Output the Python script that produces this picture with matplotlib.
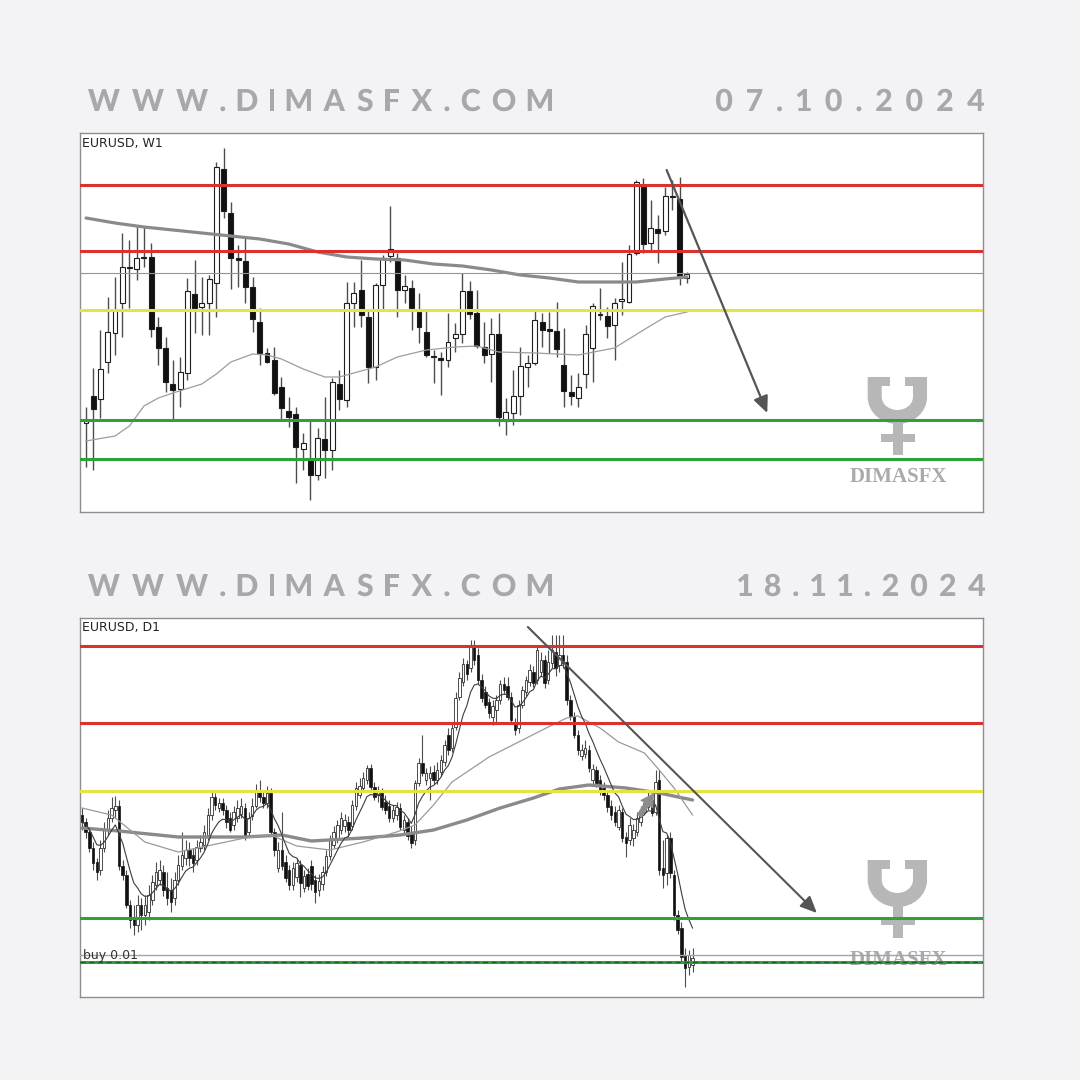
import numpy as np
import pandas as pd
import matplotlib
matplotlib.use("Agg")
import matplotlib.pyplot as plt
from matplotlib.patches import PathPatch, Rectangle
from matplotlib.path import Path
from matplotlib.textpath import TextPath
from matplotlib.font_manager import FontProperties
from matplotlib.transforms import Affine2D

# ---------------------------------------------------------------- weekly EURUSD
w_open = [1.0654, 1.0708, 1.0702, 1.0776, 1.0834, 1.0894, 1.0964, 1.0962, 1.0984, 1.0986,
          1.0846, 1.0804, 1.0732, 1.0722, 1.0754, 1.0912, 1.0886, 1.0894, 1.0934, 1.1162,
          1.1074, 1.0984, 1.0978, 1.0926, 1.0856, 1.0794, 1.0780, 1.0726, 1.0678, 1.0672,
          1.0602, 1.0584, 1.0550, 1.0622, 1.0600, 1.0732, 1.0700, 1.0894, 1.0920, 1.0866,
          1.0766, 1.0930, 1.0988, 1.0984, 1.0920, 1.0924, 1.0876, 1.0836, 1.0788, 1.0784,
          1.0780, 1.0824, 1.0832, 1.0918, 1.0874, 1.0806, 1.0792, 1.0832, 1.0658, 1.0674,
          1.0708, 1.0766, 1.0774, 1.0856, 1.0842, 1.0838, 1.0770, 1.0716, 1.0704, 1.0752,
          1.0804, 1.0872, 1.0868, 1.0850, 1.0898, 1.0896, 1.0994, 1.1126, 1.1014, 1.1042,
          1.1038, 1.1108, 1.1102, 1.0944]
w_high = [1.0686, 1.0764, 1.0840, 1.0906, 1.0946, 1.1034, 1.1020, 1.1050, 1.1046, 1.1014,
          1.0866, 1.0826, 1.0780, 1.0786, 1.0944, 1.0980, 1.0946, 1.0950, 1.1176, 1.1204,
          1.1096, 1.1010, 1.1026, 1.0946, 1.0884, 1.0804, 1.0806, 1.0746, 1.0706, 1.0686,
          1.0634, 1.0660, 1.0644, 1.0706, 1.0744, 1.0760, 1.0936, 1.0936, 1.0980, 1.0880,
          1.0934, 1.0990, 1.1088, 1.0994, 1.0950, 1.0940, 1.0914, 1.0880, 1.0800, 1.0796,
          1.0874, 1.0854, 1.0954, 1.0938, 1.0920, 1.0856, 1.0864, 1.0874, 1.0704, 1.0760,
          1.0806, 1.0790, 1.0880, 1.0874, 1.0876, 1.0896, 1.0844, 1.0750, 1.0754, 1.0850,
          1.0894, 1.0924, 1.0886, 1.0904, 1.0976, 1.1010, 1.1140, 1.1144, 1.1100, 1.1070,
          1.1126, 1.1140, 1.1146, 1.0956]
w_low = [1.0566, 1.0560, 1.0664, 1.0754, 1.0790, 1.0826, 1.0884, 1.0940, 1.0966, 1.0826,
         1.0770, 1.0716, 1.0660, 1.0686, 1.0740, 1.0834, 1.0830, 1.0830, 1.0866, 1.1064,
         1.0922, 1.0926, 1.0894, 1.0836, 1.0770, 1.0774, 1.0710, 1.0660, 1.0646, 1.0534,
         1.0560, 1.0500, 1.0540, 1.0544, 1.0560, 1.0680, 1.0686, 1.0846, 1.0846, 1.0734,
         1.0740, 1.0880, 1.0976, 1.0866, 1.0894, 1.0840, 1.0814, 1.0786, 1.0734, 1.0710,
         1.0766, 1.0796, 1.0814, 1.0862, 1.0804, 1.0774, 1.0736, 1.0648, 1.0630, 1.0650,
         1.0670, 1.0726, 1.0770, 1.0806, 1.0794, 1.0786, 1.0686, 1.0690, 1.0686, 1.0724,
         1.0736, 1.0860, 1.0824, 1.0780, 1.0870, 1.0894, 1.0990, 1.0994, 1.0996, 1.0974,
         1.1030, 1.1080, 1.0930, 1.0934]
w_close = [1.0660, 1.0682, 1.0762, 1.0836, 1.0880, 1.0966, 1.0966, 1.0984, 1.0986, 1.0842,
           1.0804, 1.0736, 1.0720, 1.0756, 1.0918, 1.0884, 1.0894, 1.0942, 1.1166, 1.1078,
           1.0984, 1.0980, 1.0926, 1.0862, 1.0794, 1.0776, 1.0714, 1.0684, 1.0666, 1.0606,
           1.0614, 1.0550, 1.0624, 1.0600, 1.0736, 1.0702, 1.0894, 1.0914, 1.0870, 1.0766,
           1.0930, 1.0984, 1.1002, 1.0920, 1.0928, 1.0884, 1.0846, 1.0790, 1.0786, 1.0780,
           1.0816, 1.0832, 1.0918, 1.0872, 1.0808, 1.0790, 1.0832, 1.0666, 1.0676, 1.0708,
           1.0768, 1.0774, 1.0860, 1.0840, 1.0838, 1.0802, 1.0718, 1.0708, 1.0726, 1.0832,
           1.0888, 1.0870, 1.0848, 1.0894, 1.0902, 1.0992, 1.1136, 1.1012, 1.1044, 1.1034,
           1.1108, 1.1106, 1.0948, 1.0952]

# moving averages on the weekly chart (bar index, value)
w_ma_slow_idx = [0, 4, 8, 12, 16, 20, 24, 28, 32, 36, 40, 44, 48, 52, 56, 60, 64, 68, 72, 76, 80, 83]
w_ma_slow = [1.1064, 1.1054, 1.1046, 1.1040, 1.1034, 1.1028, 1.1022, 1.1012, 1.0996, 1.0986, 1.0982,
             1.0980, 1.0972, 1.0968, 1.0960, 1.0950, 1.0944, 1.0936, 1.0936, 1.0936, 1.0942, 1.0946]
w_ma_mid_idx = [0, 4, 6, 8, 10, 12, 16, 18, 20, 23, 25, 27, 30, 33, 35, 38, 40, 43, 47, 51, 54, 57,
                62, 68, 73, 77, 80, 83]
w_ma_mid = [1.0618, 1.0628, 1.0648, 1.0688, 1.0704, 1.0714, 1.0732, 1.0752, 1.0776, 1.0792, 1.0790,
            1.0782, 1.0762, 1.0746, 1.0746, 1.0758, 1.0766, 1.0786, 1.0800, 1.0806, 1.0808, 1.0796,
            1.0794, 1.0790, 1.0804, 1.0840, 1.0866, 1.0876]

w_red_levels = [1.1130, 1.0998]
w_yellow_level = 1.0880
w_green_levels = [1.0660, 1.0582]
w_last_price = 1.0954
w_arrow_from = (80.2, 1.1160)
w_arrow_to = (94.1, 1.0674)

# ---------------------------------------------------------------- daily EURUSD
d_open = [1.0870, 1.0856, 1.0836, 1.0804, 1.0776, 1.0760, 1.0804, 1.0840, 1.0864, 1.0880,
          1.0888, 1.0768, 1.0750, 1.0690, 1.0664, 1.0650, 1.0690, 1.0670, 1.0676, 1.0700,
          1.0730, 1.0740, 1.0756, 1.0724, 1.0720, 1.0704, 1.0740, 1.0768, 1.0784, 1.0800,
          1.0790, 1.0780, 1.0804, 1.0810, 1.0830, 1.0870, 1.0906, 1.0884, 1.0894, 1.0880,
          1.0864, 1.0850, 1.0864, 1.0872, 1.0884, 1.0836, 1.0868, 1.0888, 1.0920, 1.0906,
          1.0894, 1.0914, 1.0836, 1.0764, 1.0800, 1.0776, 1.0760, 1.0730, 1.0746, 1.0770,
          1.0724, 1.0752, 1.0768, 1.0740, 1.0720, 1.0732, 1.0756, 1.0788, 1.0810, 1.0820,
          1.0840, 1.0848, 1.0856, 1.0848, 1.0888, 1.0910, 1.0924, 1.0940, 1.0964, 1.0926,
          1.0910, 1.0914, 1.0896, 1.0888, 1.0864, 1.0870, 1.0884, 1.0840, 1.0856, 1.0836,
          1.0820, 1.0934, 1.0974, 1.0940, 1.0944, 1.0956, 1.0940, 1.0956, 1.0976, 1.1030,
          1.1004, 1.1046, 1.1106, 1.1136, 1.1172, 1.1164, 1.1208, 1.1190, 1.1140, 1.1116,
          1.1096, 1.1066, 1.1080, 1.1100, 1.1132, 1.1128, 1.1106, 1.1056, 1.1044, 1.1090,
          1.1116, 1.1136, 1.1156, 1.1140, 1.1156, 1.1180, 1.1140, 1.1174, 1.1196, 1.1170,
          1.1190, 1.1176, 1.1100, 1.1068, 1.1030, 1.0988, 1.0992, 1.1000, 1.0940, 1.0960,
          1.0940, 1.0924, 1.0910, 1.0888, 1.0876, 1.0846, 1.0876, 1.0826, 1.0820, 1.0824,
          1.0836, 1.0856, 1.0876, 1.0886, 1.0900, 1.0876, 1.0940, 1.0764, 1.0754, 1.0824,
          1.0750, 1.0670, 1.0644, 1.0590, 1.0566, 1.0570]
d_high = [1.0884, 1.0864, 1.0844, 1.0816, 1.0784, 1.0820, 1.0856, 1.0880, 1.0906, 1.0908,
          1.0900, 1.0780, 1.0760, 1.0700, 1.0690, 1.0710, 1.0704, 1.0710, 1.0730, 1.0750,
          1.0776, 1.0780, 1.0770, 1.0756, 1.0744, 1.0756, 1.0790, 1.0836, 1.0820, 1.0816,
          1.0804, 1.0820, 1.0830, 1.0850, 1.0884, 1.0916, 1.0914, 1.0904, 1.0904, 1.0890,
          1.0876, 1.0888, 1.0900, 1.0904, 1.0894, 1.0876, 1.0904, 1.0932, 1.0940, 1.0920,
          1.0928, 1.0924, 1.0844, 1.0816, 1.0876, 1.0790, 1.0770, 1.0776, 1.0784, 1.0780,
          1.0760, 1.0764, 1.0780, 1.0750, 1.0752, 1.0768, 1.0800, 1.0830, 1.0848, 1.0860,
          1.0876, 1.0872, 1.0868, 1.0900, 1.0936, 1.0944, 1.0956, 1.0970, 1.0972, 1.0936,
          1.0928, 1.0924, 1.0910, 1.0900, 1.0890, 1.0896, 1.0894, 1.0870, 1.0864, 1.0848,
          1.0940, 1.0984, 1.1030, 1.0964, 1.0968, 1.0970, 1.0976, 1.0990, 1.1020, 1.1044,
          1.1056, 1.1116, 1.1156, 1.1184, 1.1180, 1.1220, 1.1220, 1.1204, 1.1152, 1.1128,
          1.1104, 1.1100, 1.1110, 1.1140, 1.1146, 1.1146, 1.1116, 1.1064, 1.1100, 1.1128,
          1.1148, 1.1172, 1.1168, 1.1210, 1.1196, 1.1190, 1.1200, 1.1230, 1.1230, 1.1230,
          1.1230, 1.1190, 1.1110, 1.1076, 1.1040, 1.1012, 1.1020, 1.1010, 1.0972, 1.0968,
          1.0950, 1.0936, 1.0920, 1.0900, 1.0888, 1.0890, 1.0884, 1.0836, 1.0864, 1.0852,
          1.0876, 1.0888, 1.0904, 1.0916, 1.0910, 1.0960, 1.0960, 1.0820, 1.0830, 1.0836,
          1.0760, 1.0680, 1.0656, 1.0604, 1.0600, 1.0604]
d_low = [1.0840, 1.0824, 1.0796, 1.0760, 1.0740, 1.0750, 1.0796, 1.0830, 1.0856, 1.0864,
         1.0760, 1.0740, 1.0684, 1.0644, 1.0630, 1.0636, 1.0640, 1.0650, 1.0660, 1.0690,
         1.0720, 1.0730, 1.0708, 1.0690, 1.0676, 1.0690, 1.0730, 1.0760, 1.0770, 1.0768,
         1.0756, 1.0770, 1.0796, 1.0800, 1.0820, 1.0860, 1.0880, 1.0876, 1.0870, 1.0844,
         1.0836, 1.0840, 1.0856, 1.0864, 1.0820, 1.0828, 1.0860, 1.0884, 1.0896, 1.0884,
         1.0884, 1.0828, 1.0788, 1.0756, 1.0760, 1.0736, 1.0720, 1.0720, 1.0736, 1.0706,
         1.0716, 1.0720, 1.0720, 1.0694, 1.0708, 1.0720, 1.0748, 1.0780, 1.0804, 1.0814,
         1.0832, 1.0836, 1.0824, 1.0840, 1.0880, 1.0904, 1.0916, 1.0932, 1.0920, 1.0900,
         1.0896, 1.0880, 1.0872, 1.0856, 1.0856, 1.0860, 1.0840, 1.0834, 1.0820, 1.0804,
         1.0810, 1.0928, 1.0948, 1.0930, 1.0900, 1.0932, 1.0932, 1.0948, 1.0968, 1.0990,
         1.0996, 1.1040, 1.1100, 1.1128, 1.1140, 1.1156, 1.1170, 1.1132, 1.1096, 1.1084,
         1.1064, 1.1050, 1.1056, 1.1092, 1.1112, 1.1100, 1.1052, 1.1030, 1.1034, 1.1084,
         1.1108, 1.1128, 1.1126, 1.1132, 1.1148, 1.1124, 1.1132, 1.1164, 1.1148, 1.1156,
         1.1164, 1.1090, 1.1060, 1.1024, 1.0990, 1.0980, 1.0984, 1.0956, 1.0930, 1.0926,
         1.0910, 1.0900, 1.0876, 1.0860, 1.0848, 1.0840, 1.0816, 1.0786, 1.0810, 1.0808,
         1.0828, 1.0848, 1.0870, 1.0880, 1.0868, 1.0870, 1.0750, 1.0724, 1.0730, 1.0744,
         1.0660, 1.0632, 1.0576, 1.0526, 1.0550, 1.0556]
d_close = [1.0856, 1.0836, 1.0804, 1.0774, 1.0756, 1.0804, 1.0840, 1.0864, 1.0884, 1.0888,
           1.0768, 1.0750, 1.0690, 1.0660, 1.0650, 1.0690, 1.0670, 1.0690, 1.0710, 1.0736,
           1.0756, 1.0760, 1.0720, 1.0704, 1.0696, 1.0740, 1.0770, 1.0790, 1.0800, 1.0784,
           1.0774, 1.0806, 1.0816, 1.0836, 1.0870, 1.0906, 1.0890, 1.0894, 1.0880, 1.0856,
           1.0840, 1.0876, 1.0884, 1.0888, 1.0830, 1.0864, 1.0888, 1.0920, 1.0906, 1.0894,
           1.0914, 1.0836, 1.0800, 1.0800, 1.0768, 1.0744, 1.0730, 1.0764, 1.0774, 1.0734,
           1.0748, 1.0728, 1.0732, 1.0716, 1.0738, 1.0756, 1.0788, 1.0820, 1.0836, 1.0850,
           1.0864, 1.0860, 1.0840, 1.0890, 1.0924, 1.0928, 1.0944, 1.0964, 1.0926, 1.0906,
           1.0916, 1.0886, 1.0880, 1.0864, 1.0880, 1.0886, 1.0846, 1.0860, 1.0828, 1.0814,
           1.0934, 1.0974, 1.0954, 1.0954, 1.0954, 1.0940, 1.0960, 1.0980, 1.1010, 1.1000,
           1.1044, 1.1104, 1.1144, 1.1172, 1.1152, 1.1210, 1.1180, 1.1140, 1.1104, 1.1090,
           1.1074, 1.1088, 1.1100, 1.1132, 1.1120, 1.1106, 1.1060, 1.1040, 1.1090, 1.1120,
           1.1140, 1.1160, 1.1134, 1.1200, 1.1180, 1.1134, 1.1176, 1.1200, 1.1164, 1.1190,
           1.1174, 1.1100, 1.1068, 1.1030, 1.1000, 1.1000, 1.1004, 1.0964, 1.0962, 1.0934,
           1.0920, 1.0910, 1.0886, 1.0870, 1.0856, 1.0880, 1.0824, 1.0814, 1.0850, 1.0840,
           1.0864, 1.0876, 1.0894, 1.0904, 1.0874, 1.0936, 1.0760, 1.0750, 1.0824, 1.0754,
           1.0670, 1.0640, 1.0586, 1.0564, 1.0590, 1.0584]

d_ma_slow_idx = [0, 10, 26, 44, 54, 62, 76, 86, 95, 104, 113, 122, 129, 137, 147, 156, 165]
d_ma_slow = [1.0844, 1.0838, 1.0826, 1.0826, 1.0830, 1.0818, 1.0824, 1.0830, 1.0840, 1.0860, 1.0884,
             1.0904, 1.0922, 1.0930, 1.0924, 1.0914, 1.0900]
d_ma_mid_idx = [0, 8, 12, 17, 26, 35, 44, 51, 58, 67, 76, 85, 90, 95, 100, 104, 110, 118, 126, 131,
                134, 140, 145, 152, 156, 160, 165]
d_ma_mid = [1.0884, 1.0870, 1.0846, 1.0816, 1.0796, 1.0810, 1.0824, 1.0830, 1.0808, 1.0800, 1.0816,
            1.0836, 1.0850, 1.0890, 1.0936, 1.0956, 1.0986, 1.1016, 1.1046, 1.1064, 1.1068, 1.1044,
            1.1016, 1.0994, 1.0960, 1.0924, 1.0870]
d_fast_span = 8

d_red_levels = [1.1208, 1.1054]
d_yellow_level = 1.0918
d_green_level = 1.0664
d_green_dashed_level = 1.0576
d_buy_price = 1.0590
d_trend_from = (120.5, 1.1246)
d_trend_to = (198.6, 1.0674)
d_entry_from = (150.6, 1.0868)
d_entry_to = (154.6, 1.0914)

site_text = "WWW.DIMASFX.COM"
date_top = "07.10.2024"
date_bottom = "18.11.2024"

# ---------------------------------------------------------------- styling
FIG_PX = 1080
BG = "#f3f3f5"
HEADER_GREY = "#a8a8aa"
LOGO_GREY = "#b7b7b7"
RED = "#d8332f"
YELLOW = "#e4e244"
GREEN = "#2fa03a"

fig = plt.figure(figsize=(10.8, 10.8), dpi=100, facecolor=BG)
page = fig.add_axes([0, 0, 1, 1], zorder=0)
page.set_xlim(0, FIG_PX)
page.set_ylim(FIG_PX, 0)
page.axis("off")


def frame_box(x0, y0, x1, y1):
    return [x0 / FIG_PX, 1 - y1 / FIG_PX, (x1 - x0) / FIG_PX, (y1 - y0) / FIG_PX]


def spaced_word(text, x_left, x_right, baseline, cap_px, prop):
    ref = TextPath((0, 0), "H", size=1, prop=prop).get_extents().height
    em = cap_px / ref
    glyphs = [TextPath((0, 0), ch, size=em, prop=prop) for ch in text]
    boxes = [g.get_extents() for g in glyphs]
    ink = sum(b.width for b in boxes)
    gap = (x_right - x_left - ink) / (len(text) - 1)
    x = x_left
    for g, b in zip(glyphs, boxes):
        tr = Affine2D().translate(-b.x0, 0).scale(1, -1).translate(x, baseline)
        page.add_patch(PathPatch(tr.transform_path(g), fc=HEADER_GREY, ec="none", lw=0))
        x += b.width + gap


def draw_logo(ax, top):
    t = page.transData
    cx, cy, rx, ry = 897.35, top + 20, 22.65, 20
    k = 0.5523
    lx, rxx = cx - rx, cx + rx
    verts = [(lx, top), (lx, cy),
             (lx, cy + k * ry), (cx - k * rx, cy + ry), (cx, cy + ry),
             (cx + k * rx, cy + ry), (rxx, cy + k * ry), (rxx, cy),
             (rxx, top)]
    codes = [Path.MOVETO, Path.LINETO,
             Path.CURVE4, Path.CURVE4, Path.CURVE4,
             Path.CURVE4, Path.CURVE4, Path.CURVE4,
             Path.LINETO]
    ax.add_patch(PathPatch(Path(verts, codes), fill=False, ec=LOGO_GREY, lw=10.1,
                           capstyle="butt", joinstyle="miter", transform=t, zorder=1))
    for (x0, y0, w, h) in [(867.7, top, 22.3, 9), (905.0, top, 22.3, 9),
                           (893.0, top + 44, 10, 34), (880.7, top + 57, 34.3, 8)]:
        ax.add_patch(Rectangle((x0, y0), w, h, fc=LOGO_GREY, ec="none", transform=t, zorder=1))
    ax.text(898, top + 100, "DIMASFX", transform=t, ha="center", va="center",
            fontfamily="Liberation Serif", fontweight="bold", fontsize=15,
            color="#aaaaaa", zorder=1)


def draw_candles(ax, o, h, l, c, width, wick_lw, edge_lw):
    o, h, l, c = (np.asarray(v) for v in (o, h, l, c))
    x = np.arange(len(o))
    ax.vlines(x, l, h, color="#4d4d4d", lw=wick_lw, zorder=3)
    up = c >= o
    ax.bar(x, np.abs(c - o), width, np.minimum(o, c),
           color=np.where(up, "white", "#111111"), edgecolor="#1e1e1e",
           linewidth=edge_lw, zorder=4)


def style_panel(ax):
    ax.set_facecolor("white")
    ax.set_xticks([])
    ax.set_yticks([])
    for s in ax.spines.values():
        s.set_color("#8e8e8e")
        s.set_linewidth(1.0)


# ---------------------------------------------------------------- headers
head_font = FontProperties(family="Lato", weight="black")
spaced_word(site_text, 88, 552, 111, 22, head_font)
spaced_word(date_top, 716, 984, 111, 22, head_font)
spaced_word(site_text, 88, 552, 596, 22, head_font)
spaced_word(date_bottom, 738, 985, 596, 22, head_font)

# ---------------------------------------------------------------- weekly panel
ax_w = fig.add_axes(frame_box(80, 133, 983, 512), zorder=1)
style_panel(ax_w)
ax_w.set_xlim(-0.83, 123.9)
ax_w.set_ylim(1.0476, 1.1234)
draw_logo(ax_w, 377)
draw_candles(ax_w, w_open, w_high, w_low, w_close, 0.68, 1.0, 0.8)
ax_w.plot(w_ma_slow_idx, w_ma_slow, color="#8a8a8a", lw=2.3, zorder=5, solid_capstyle="round")
ax_w.plot(w_ma_mid_idx, w_ma_mid, color="#9d9d9d", lw=0.9, zorder=5)
for lv in w_red_levels:
    ax_w.axhline(lv, color=RED, lw=2.2, zorder=6)
ax_w.axhline(w_last_price, color="#8497ab", lw=0.8, zorder=6)
ax_w.axhline(w_yellow_level, color=YELLOW, lw=2.2, zorder=6)
for lv in w_green_levels:
    ax_w.axhline(lv, color=GREEN, lw=2.2, zorder=6)
ax_w.annotate("", xy=w_arrow_to, xytext=w_arrow_from, zorder=7,
              arrowprops=dict(arrowstyle="-|>,head_length=1.0,head_width=0.45",
                              color="#555555", lw=1.6, shrinkA=0, shrinkB=0))
ax_w.text(82, 143, "EURUSD, W1", transform=page.transData, ha="left", va="center",
          fontfamily="DejaVu Sans", fontsize=9, color="#222222", zorder=8)

# ---------------------------------------------------------------- daily panel
ax_d = fig.add_axes(frame_box(80, 618, 983, 997), zorder=1)
style_panel(ax_d)
ax_d.set_xlim(-0.54, 243.5)
ax_d.set_ylim(1.0506, 1.1264)
draw_logo(ax_d, 860)
draw_candles(ax_d, d_open, d_high, d_low, d_close, 0.68, 0.8, 0.55)
d_fast = pd.Series(d_close).ewm(span=d_fast_span, adjust=False).mean()
ax_d.plot(d_ma_slow_idx, d_ma_slow, color="#8a8a8a", lw=2.4, zorder=5, solid_capstyle="round")
ax_d.plot(d_ma_mid_idx, d_ma_mid, color="#9a9a9a", lw=0.9, zorder=5)
ax_d.plot(np.arange(len(d_fast)), d_fast, color="#3c3c3c", lw=0.8, zorder=5)
for lv in d_red_levels:
    ax_d.axhline(lv, color=RED, lw=2.2, zorder=6)
ax_d.axhline(d_yellow_level, color=YELLOW, lw=2.2, zorder=6)
ax_d.axhline(d_green_level, color=GREEN, lw=2.2, zorder=6)
ax_d.axhline(d_buy_price, color="#97a6b8", lw=1.0, zorder=6)
ax_d.axhline(d_green_dashed_level, color=GREEN, lw=2.2, zorder=6)
ax_d.axhline(d_green_dashed_level, color="#1c5e22", lw=0.9, ls=(0, (4, 3)), zorder=6)
ax_d.annotate("", xy=d_trend_to, xytext=d_trend_from, zorder=7,
              arrowprops=dict(arrowstyle="-|>,head_length=1.0,head_width=0.45",
                              color="#555555", lw=1.5, shrinkA=0, shrinkB=0))
ax_d.annotate("", xy=d_entry_to, xytext=d_entry_from, zorder=7,
              arrowprops=dict(arrowstyle="simple,head_length=0.7,head_width=0.8,tail_width=0.3",
                              color="#8c8c8c", lw=0, shrinkA=0, shrinkB=0, mutation_scale=14))
ax_d.text(82, 628, "EURUSD, D1", transform=page.transData, ha="left", va="center",
          fontfamily="DejaVu Sans", fontsize=9, color="#222222", zorder=8)
ax_d.text(83, 959, "buy 0.01", transform=page.transData, ha="left", va="baseline",
          fontfamily="DejaVu Sans", fontsize=9, color="#333333", zorder=8)

fig.savefig("out.png", dpi=100, facecolor=BG)
